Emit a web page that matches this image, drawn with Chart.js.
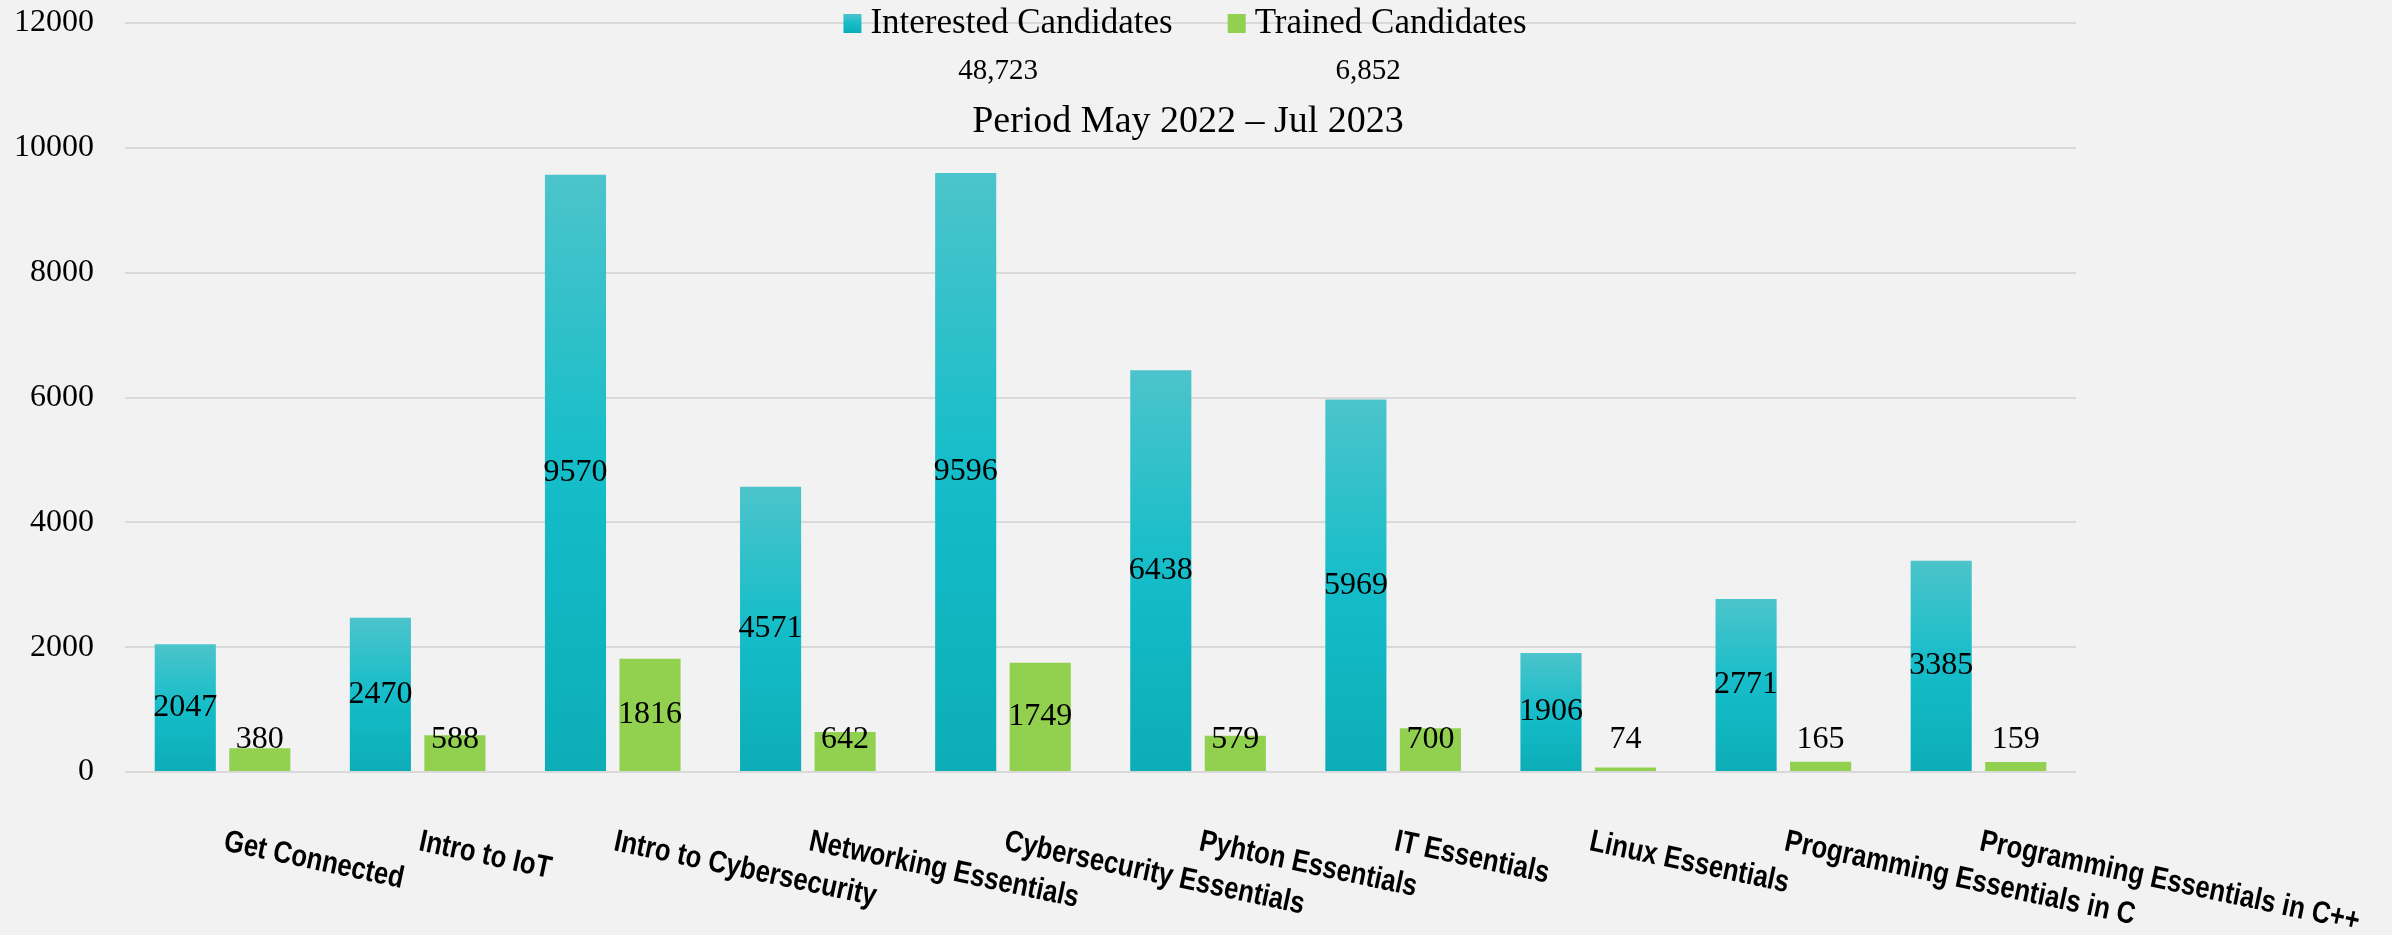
<!DOCTYPE html>
<html>
<head>
<meta charset="utf-8">
<script src="https://cdn.jsdelivr.net/npm/chart.js@4/dist/chart.umd.min.js"></script>
<style>
  html, body { margin: 0; padding: 0; background: #f2f2f2; }
  #wrap { width: 2392px; height: 935px; position: relative; }
</style>
</head>
<body>
<div id="wrap"><canvas id="myChart"></canvas></div>
<script>
// data
const categories = ['Get Connected', 'Intro to IoT', 'Intro to Cybersecurity', 'Networking Essentials',
  'Cybersecurity Essentials', 'Pyhton Essentials', 'IT Essentials', 'Linux Essentials',
  'Programming Essentials in C', 'Programming Essentials in C++'];
const interested = [2047, 2470, 9570, 4571, 9596, 6438, 5969, 1906, 2771, 3385];
const trained = [380, 588, 1816, 642, 1749, 579, 700, 74, 165, 159];
const seriesNames = ['Interested Candidates', 'Trained Candidates'];
const yMin = 0, yMax = 12000, yStep = 2000;
const titleText = 'Period May 2022 \u2013 Jul 2023';

const SERIF = "'Palatino Linotype', 'Book Antiqua', Palatino, 'Liberation Serif', serif";
const SANS = "'Liberation Sans', Arial, sans-serif";
const green = '#92d050';

function tealGradient(ctx, top, bottom) {
  const g = ctx.createLinearGradient(0, top, 0, bottom);
  g.addColorStop(0, '#4cc4cb');
  g.addColorStop(0.5, '#14bdc9');
  g.addColorStop(1, '#0cadb7');
  return g;
}

// labels, legend, totals, title drawn on top of the chart
const overlay = {
  id: 'overlay',
  afterDatasetsDraw(chart) {
    const ctx = chart.ctx;
    ctx.save();
    ctx.fillStyle = '#000';
    ctx.font = '32px ' + SERIF;
    ctx.textAlign = 'center';
    ctx.textBaseline = 'middle';
    chart.data.datasets.forEach((ds, di) => {
      chart.getDatasetMeta(di).data.forEach((bar, i) => {
        let y = (bar.y + bar.base) / 2;
        if (y > bar.base - 31) y = bar.base - 31;
        ctx.fillText(String(ds.data[i]), bar.x, y);
      });
    });
    ctx.restore();
  },
  afterDraw(chart) {
    const ctx = chart.ctx;
    const xs = chart.scales.x;
    const area = chart.chartArea;

    // rotated category labels
    ctx.save();
    ctx.fillStyle = '#000';
    ctx.font = 'bold 31px ' + SANS;
    ctx.textAlign = 'left';
    ctx.textBaseline = 'alphabetic';
    categories.forEach((c, i) => {
      ctx.save();
      ctx.translate(xs.getPixelForTick(i), area.bottom + 78);
      ctx.rotate(12 * Math.PI / 180);
      ctx.scale(0.83, 1);
      ctx.fillText(c, 0, 0);
      ctx.restore();
    });
    ctx.restore();

    // legend
    ctx.save();
    ctx.font = '35px ' + SERIF;
    ctx.textBaseline = 'alphabetic';
    const box = 18, gap = 9, spacing = 55;
    const widths = seriesNames.map(n => box + gap + ctx.measureText(n).width);
    const total = widths[0] + spacing + widths[1];
    let x = 1185 - total / 2;
    const totals = [interested, trained].map(a => a.reduce((s, v) => s + v, 0));
    seriesNames.forEach((n, i) => {
      ctx.fillStyle = i === 0 ? tealGradient(ctx, 14, 33) : green;
      ctx.fillRect(x, 14, box, 19);
      ctx.fillStyle = '#000';
      ctx.textAlign = 'left';
      ctx.font = '35px ' + SERIF;
      ctx.fillText(n, x + box + gap, 33);
      ctx.textAlign = 'center';
      ctx.font = '29px ' + SERIF;
      ctx.fillText(totals[i].toLocaleString('en-US'), x + widths[i] * 0.47, 79);
      x += widths[i] + spacing;
    });

    // title
    ctx.font = '38px ' + SERIF;
    ctx.textAlign = 'center';
    ctx.fillText(titleText, 1188, 132);
    ctx.restore();
  }
};

const ctx = document.getElementById('myChart').getContext('2d');
const myChart = new Chart(ctx, {
  type: 'bar',
  data: {
    labels: categories,
    datasets: [{
      label: seriesNames[0],
      data: interested,
      backgroundColor(c) {
        const chart = c.chart;
        if (!chart.chartArea || c.raw === undefined) return '#14bdc9';
        const ys = chart.scales.y;
        return tealGradient(chart.ctx, ys.getPixelForValue(c.raw), ys.getPixelForValue(0));
      },
      borderWidth: 0
    }, {
      label: seriesNames[1],
      data: trained,
      backgroundColor: green,
      borderWidth: 0
    }]
  },
  plugins: [overlay],
  options: {
    responsive: true,
    maintainAspectRatio: false,
    animation: false,
    layout: { padding: { left: 15, right: 316, top: 23, bottom: 163 } },
    datasets: { bar: { categoryPercentage: 0.764, barPercentage: 0.82 } },
    plugins: {
      legend: { display: false },
      title: { display: false },
      tooltip: { enabled: false }
    },
    scales: {
      x: {
        grid: { display: false, drawTicks: false },
        border: { display: false },
        ticks: { display: false },
        afterFit(s) { s.height = 0; s.paddingLeft = 0; s.paddingRight = 0; }
      },
      y: {
        min: yMin,
        max: yMax,
        grid: { color: '#d9d9d9', lineWidth: 2, drawTicks: false },
        border: { display: false },
        ticks: {
          stepSize: yStep,
          padding: 31,
          color: '#000',
          font: { family: SERIF, size: 32 },
          callback: v => String(v)
        },
        afterFit(s) { s.width = 110; s.paddingTop = 0; s.paddingBottom = 0; }
      }
    }
  }
});
</script>
</body>
</html>
